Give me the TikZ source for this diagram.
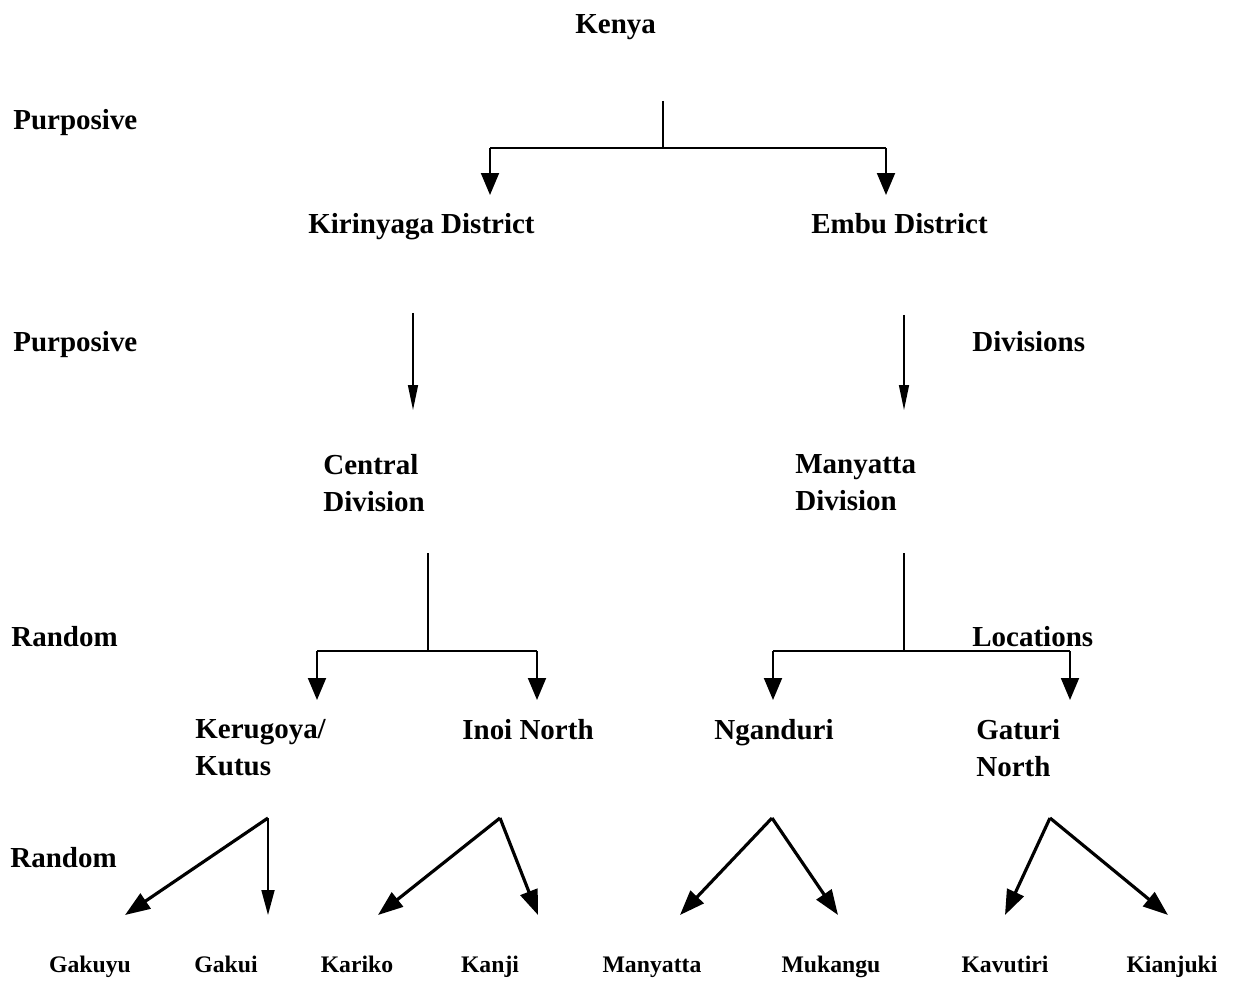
\documentclass[tikz,border=0pt]{standalone}
\usepackage{fontspec}
\setmainfont{Liberation Serif}
\usetikzlibrary{arrows.meta}

\tikzset{
  lbl/.style={font=\fontsize{16.5}{21}\selectfont\bfseries, inner sep=0pt, anchor=base west},
  twoline/.style={font=\fontsize{16.5}{21}\selectfont\bfseries, inner sep=0pt, anchor=west, align=left},
  leaf/.style={font=\fontsize{13.5}{16}\selectfont\bfseries, inner sep=0pt, anchor=base},
  link/.style={line width=1.1pt},
  bar/.style={line width=1.7pt},
  drop/.style={line width=1.1pt, -{Triangle[length=4.4mm,width=3.6mm]}},
  slim/.style={line width=0.8pt, -{Triangle[length=5mm,width=2mm]}},
  fat/.style={line width=1.8pt, -{Triangle[length=5mm,width=3.6mm]}},
  thin/.style={line width=1pt, -{Triangle[length=5mm,width=2.6mm]}}
}

\begin{document}
\begin{tikzpicture}[x=0.02cm, y=-0.02cm]
\useasboundingbox (0,0) rectangle (1241,983);
%
% labels
\node[lbl] (kenya) at (575,34) {Kenya};
\node[lbl] (purp1) at (13,130) {Purposive};
\node[lbl] (kiri) at (308,234) {Kirinyaga District};
\node[lbl] (embu) at (811,234) {Embu District};
\node[lbl] (purp2) at (13,351) {Purposive};
\node[lbl] (divs) at (972,352) {Divisions};
\node[twoline] (central) at (323,483) {Central\\Division};
\node[twoline] (manyd) at (795,483) {Manyatta\\Division};
\node[lbl] (rand1) at (11,646) {Random};
\node[lbl] (locs) at (972,646) {Locations};
\node[twoline] (keru) at (195,748) {Kerugoya/\\Kutus};
\node[lbl] (inoi) at (462,739) {Inoi North};
\node[lbl] (ngan) at (714,739) {Nganduri};
\node[twoline] (gatu) at (976,748) {Gaturi\\North};
\node[lbl] (rand2) at (10,867) {Random};

% Kenya -> districts
\coordinate (ktop) at (663,101);
\coordinate (kmid) at (663,148);
\coordinate (kl) at (490,148);
\coordinate (kr) at (886,148);
\draw[link] (ktop) -- (kmid);
\draw[bar] (kl) -- (kr);
\draw[drop] (kl) -- (490,195);
\draw[drop] (kr) -- (886,195);

% districts -> divisions
\coordinate (ctop) at (413,313);
\coordinate (mtop) at (904,315);
\draw[slim] (ctop) -- (413,410);
\draw[slim] (mtop) -- (904,410);

% divisions -> locations
\coordinate (cdiv) at (428,553);
\coordinate (cmid) at (428,651);
\coordinate (cl) at (317,651);
\coordinate (cr) at (537,651);
\draw[link] (cdiv) -- (cmid);
\draw[bar] (cl) -- (cr);
\draw[drop] (cl) -- (317,700);
\draw[drop] (cr) -- (537,700);

\coordinate (mdiv) at (904,553);
\coordinate (mmid) at (904,651);
\coordinate (ml) at (773,651);
\coordinate (mr) at (1070,651);
\draw[link] (mdiv) -- (mmid);
\draw[bar] (ml) -- (mr);
\draw[drop] (ml) -- (773,700);
\draw[drop] (mr) -- (1070,700);

% locations -> sub-locations
\foreach \n/\x/\l/\r in {a/268/125/268, b/500/378/538, c/772/680/838, d/1050/1005/1168} {
  \coordinate (fan\n) at (\x,818);
  \coordinate (fan\n l) at (\l,915);
  \coordinate (fan\n r) at (\r,915);
  \draw[fat] (fan\n) -- (fan\n l);
}
\draw[thin] (fana) -- (fanar);
\foreach \n in {b,c,d} {
  \draw[fat] (fan\n) -- (fan\n r);
}

\foreach \x/\name in {90/Gakuyu, 226/Gakui, 357/Kariko, 490/Kanji, 652/Manyatta, 831/Mukangu, 1005/Kavutiri, 1172/Kianjuki} {
  \node[leaf] (\name) at (\x,972) {\name};
}

\end{tikzpicture}
\end{document}
